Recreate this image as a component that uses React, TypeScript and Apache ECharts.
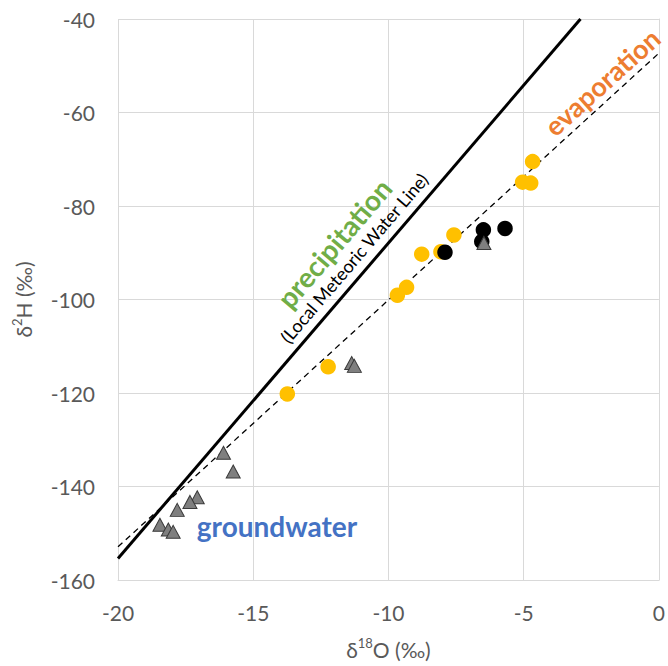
import React, { useEffect, useRef } from "react";
import * as echarts from "echarts";

// δ18O, δ2H pairs
const groundwater: number[][] = [
  [-16.1, -132.8],
  [-15.74, -136.8],
  [-17.07, -142.3],
  [-17.34, -143.3],
  [-17.81, -145.0],
  [-18.45, -148.2],
  [-18.14, -149.2],
  [-17.96, -149.7],
  [-11.36, -113.6],
  [-11.26, -114.2],
  [-6.47, -87.9],
];

const evaporatedSamples: number[][] = [
  [-13.74, -120.2],
  [-12.23, -114.4],
  [-9.67, -99.1],
  [-9.33, -97.4],
  [-8.77, -90.3],
  [-8.06, -89.8],
  [-7.58, -86.2],
  [-5.04, -74.9],
  [-4.74, -75.1],
  [-4.67, -70.5],
];

const blackSamples: number[][] = [
  [-7.91, -89.9],
  [-6.49, -85.1],
  [-6.55, -87.6],
  [-5.69, -84.8],
];

const lmwlLine: number[][] = [
  [-20, -155.4],
  [-2.9, -40],
];

const evaporationLine: number[][] = [
  [-20, -152.9],
  [0, -47.3],
];

const xRange = { min: -20, max: 0, interval: 5 };
const yRange = { min: -160, max: -40, interval: 20 };

const FONT = "Lato, 'Open Sans', sans-serif";
const GRID_COLOR = "#D9D9D9";
const LABEL_COLOR = "#595959";

export default function App() {
  const ref = useRef<HTMLDivElement>(null);

  useEffect(() => {
    if (!ref.current) return;
    const chart = echarts.init(ref.current, undefined, { renderer: "svg" });
    const deg = Math.PI / 180;
    chart.setOption({
      animation: false,
      backgroundColor: "#ffffff",
      grid: { left: 118, right: 9, top: 19, bottom: 86 },
      xAxis: {
        type: "value",
        min: xRange.min,
        max: xRange.max,
        interval: xRange.interval,
        axisLine: { show: true, lineStyle: { color: GRID_COLOR, width: 1 } },
        axisTick: { show: false },
        splitLine: { show: true, lineStyle: { color: GRID_COLOR, width: 1 } },
        axisLabel: { color: LABEL_COLOR, fontSize: 21, fontFamily: FONT, margin: 22 },
        name: "{a|δ}{s|18}{a|O (‰)}",
        nameLocation: "middle",
        nameGap: 56,
        nameTextStyle: {
          rich: {
            a: { fontSize: 21, fontFamily: FONT, color: LABEL_COLOR, lineHeight: 26 },
            s: { fontSize: 13, fontFamily: FONT, color: LABEL_COLOR, verticalAlign: "top", lineHeight: 26 },
          },
        },
      },
      yAxis: {
        type: "value",
        min: yRange.min,
        max: yRange.max,
        interval: yRange.interval,
        axisLine: { show: true, lineStyle: { color: GRID_COLOR, width: 1 } },
        axisTick: { show: false },
        splitLine: { show: true, lineStyle: { color: GRID_COLOR, width: 1 } },
        axisLabel: { color: LABEL_COLOR, fontSize: 21, fontFamily: FONT, margin: 23 },
        name: "{a|δ}{s|2}{a|H (‰)}",
        nameLocation: "middle",
        nameRotate: 90,
        nameGap: 82,
        nameTextStyle: {
          rich: {
            a: { fontSize: 21, fontFamily: FONT, color: LABEL_COLOR, lineHeight: 26 },
            s: { fontSize: 13, fontFamily: FONT, color: LABEL_COLOR, verticalAlign: "top", lineHeight: 26 },
          },
        },
      },
      series: [
        {
          name: "LMWL",
          type: "line",
          data: lmwlLine,
          showSymbol: false,
          symbol: "none",
          lineStyle: { color: "#000000", width: 3 },
          z: 1,
        },
        {
          name: "Evaporation line",
          type: "line",
          data: evaporationLine,
          showSymbol: false,
          symbol: "none",
          lineStyle: { color: "#000000", width: 1.3, type: [6, 4.5] },
          z: 1,
        },
        {
          name: "Surface water",
          type: "scatter",
          data: evaporatedSamples,
          symbol: "circle",
          symbolSize: 15.5,
          itemStyle: { color: "#FFC000", opacity: 1 },
          z: 2,
        },
        {
          name: "Other",
          type: "scatter",
          data: blackSamples,
          symbol: "circle",
          symbolSize: 15.5,
          itemStyle: { color: "#000000", opacity: 1 },
          z: 3,
        },
        {
          name: "Groundwater",
          type: "scatter",
          data: groundwater,
          symbol: "triangle",
          symbolSize: [14, 13],
          itemStyle: { color: "#7F7F7F", borderColor: "#3A3A3A", borderWidth: 1, opacity: 1 },
          z: 4,
        },
      ],
      graphic: [
        {
          type: "text",
          x: 334,
          y: 243,
          rotation: 49.5 * deg,
          z: 10,
          style: {
            text: "precipitation",
            fill: "#70AD47",
            fontSize: 28,
            fontWeight: "bold",
            fontFamily: FONT,
            align: "center",
            verticalAlign: "middle",
            textAlign: "center",
            textVerticalAlign: "middle",
          },
        },
        {
          type: "text",
          x: 354,
          y: 258,
          rotation: 49.5 * deg,
          z: 10,
          style: {
            text: "(Local Meteoric Water Line)",
            fill: "#000000",
            fontSize: 18,
            fontFamily: FONT,
            align: "center",
            verticalAlign: "middle",
            textAlign: "center",
            textVerticalAlign: "middle",
          },
        },
        {
          type: "text",
          x: 602,
          y: 82,
          rotation: 42 * deg,
          z: 10,
          style: {
            text: "evaporation",
            fill: "#ED7D31",
            fontSize: 27,
            fontWeight: "bold",
            fontFamily: FONT,
            align: "center",
            verticalAlign: "middle",
            textAlign: "center",
            textVerticalAlign: "middle",
          },
        },
        {
          type: "text",
          x: 277,
          y: 526,
          z: 10,
          style: {
            text: "groundwater",
            fill: "#4472C4",
            fontSize: 28,
            fontWeight: "bold",
            fontFamily: FONT,
            align: "center",
            verticalAlign: "middle",
            textAlign: "center",
            textVerticalAlign: "middle",
          },
        },
      ],
    });
    return () => chart.dispose();
  }, []);

  return (
    <div
      ref={ref}
      style={{ position: "fixed", left: 0, top: 0, width: 668, height: 666, background: "#fff" }}
    />
  );
}
